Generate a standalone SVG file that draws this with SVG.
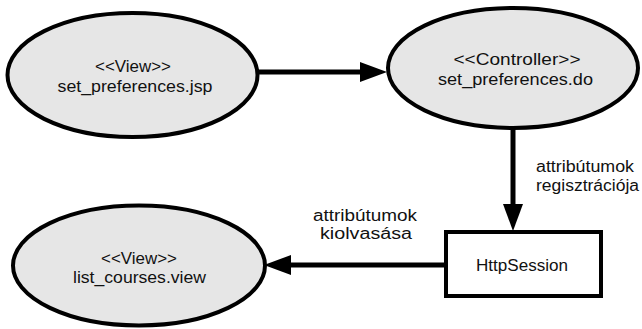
<svg xmlns="http://www.w3.org/2000/svg" width="642" height="329" viewBox="0 0 642 329">
<style>
.node ellipse{fill:#e6e6e6;stroke:#000;stroke-width:4}
.node rect{fill:#fff;stroke:#000;stroke-width:4}
text{font-family:"Liberation Sans",Arial,sans-serif;font-size:16px;fill:#111}
.c{text-anchor:middle}
.edge{stroke:#000;stroke-width:5;fill:none}
</style>
<defs>
<marker id="ah" markerUnits="userSpaceOnUse" markerWidth="27" markerHeight="20" refX="0" refY="10" orient="auto" viewBox="0 0 27 20">
<path d="M0,0 L27,10 L0,20 z" fill="#000"/>
</marker>
</defs>
<rect width="642" height="329" fill="#fff"/>
<g id="connectors">
<line class="edge" x1="258" y1="72" x2="360" y2="72" marker-end="url(#ah)"/>
<line class="edge" x1="513" y1="129" x2="513" y2="204" marker-end="url(#ah)"/>
<line class="edge" x1="446" y1="265" x2="291" y2="265" marker-end="url(#ah)"/>
<text x="365" y="221" class="c" textLength="104" lengthAdjust="spacingAndGlyphs">attribútumok</text>
<text x="366" y="239" class="c" textLength="92" lengthAdjust="spacingAndGlyphs">kiolvasása</text>
<text x="536" y="172" textLength="98" lengthAdjust="spacingAndGlyphs">attribútumok</text>
<text x="536" y="191" textLength="103" lengthAdjust="spacingAndGlyphs">regisztrációja</text>
</g>
<g id="set_preferences_jsp" class="node">
<ellipse cx="132.5" cy="75" rx="125" ry="62"/>
<text x="133" y="72" class="c" textLength="76" lengthAdjust="spacingAndGlyphs">&lt;&lt;View&gt;&gt;</text>
<text x="135" y="92" class="c" textLength="155" lengthAdjust="spacingAndGlyphs">set_preferences.jsp</text>
</g>
<g id="set_preferences_do" class="node">
<ellipse cx="513" cy="68" rx="125" ry="60"/>
<text x="517" y="65" class="c" textLength="127" lengthAdjust="spacingAndGlyphs">&lt;&lt;Controller&gt;&gt;</text>
<text x="515.5" y="85" class="c" textLength="155" lengthAdjust="spacingAndGlyphs">set_preferences.do</text>
</g>
<g id="HttpSession" class="node">
<rect x="446" y="232" width="155" height="64"/>
<text x="522" y="271" class="c" textLength="92" lengthAdjust="spacingAndGlyphs">HttpSession</text>
</g>
<g id="list_courses_view" class="node">
<ellipse cx="139" cy="265.5" rx="126" ry="60"/>
<text x="139" y="264" class="c" textLength="76" lengthAdjust="spacingAndGlyphs">&lt;&lt;View&gt;&gt;</text>
<text x="139.5" y="283" class="c" textLength="133" lengthAdjust="spacingAndGlyphs">list_courses.view</text>
</g>
</svg>
